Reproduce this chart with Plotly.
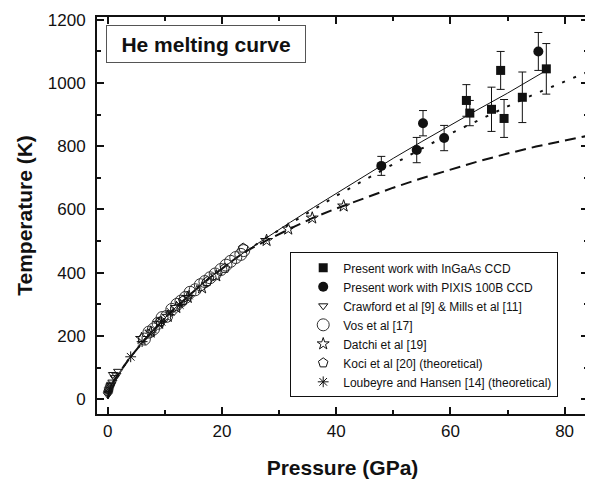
import plotly.graph_objects as go

# present work (InGaAs CCD), squares with error bars
ingaas_p = [62.8, 63.4, 67.2, 68.8, 69.4, 72.6, 76.8]
ingaas_t = [945, 905, 917, 1040, 888, 955, 1045]
ingaas_err = [50, 40, 70, 60, 60, 80, 80]

# present work (PIXIS 100B CCD), circles with error bars
pixis_p = [47.9, 54.1, 55.2, 58.9, 75.4]
pixis_t = [738, 788, 873, 826, 1100]
pixis_err = [30, 40, 40, 40, 60]

# Crawford et al & Mills et al
crawford_p = [0.0, 0.05, 0.1, 0.15, 0.2, 0.3, 0.4, 0.5, 0.6, 0.8, 0.9, 1.2, 1.5, 1.8]
crawford_t = [14, 18, 22, 26, 30, 35, 39, 43, 47, 54, 78, 68, 76, 88]

# Vos et al
vos_p = [6.4, 7.2, 8.0, 8.8, 9.5, 10.3, 11.2, 12.1, 12.8, 13.6, 14.4, 15.3,
         16.2, 17.0, 17.9, 18.8, 19.8, 20.7, 21.5, 22.4, 23.3, 23.8]
vos_t = [190, 212, 222, 240, 258, 262, 284, 300, 310, 322, 338, 346,
         362, 372, 384, 396, 410, 424, 436, 448, 458, 470]

# Datchi et al
datchi_p = [5.9, 7.5, 9.0, 10.5, 12.0, 14.0, 16.5, 19.0, 27.8, 31.6, 35.8, 41.3]
datchi_t = [192, 212, 240, 262, 290, 322, 352, 390, 502, 538, 573, 611]

# Koci et al (theoretical)
koci_p = [9.2, 13.2, 17.4, 20.5, 23.7]
koci_t = [246, 312, 372, 414, 478]

# Loubeyre and Hansen (theoretical)
loubeyre_p = [4.0, 6.0, 7.6, 9.4, 11.0, 12.6, 14.2]
loubeyre_t = [134, 182, 212, 245, 276, 298, 328]

# fitted melting curves
solid_p = [0, 0.2, 0.5, 1, 2, 3, 4, 6, 8, 10, 12, 14, 16, 18, 20, 22, 24,
           26, 28, 32, 36, 40, 45, 50, 55, 60, 65, 70, 76.8]
solid_t = [2, 25, 40, 57, 84, 110, 134, 178, 219, 257, 292, 325, 356, 386, 414, 440, 466,
           490, 513, 560, 606, 651, 707, 762, 815, 867, 918, 968, 1040]

dotted_p = [0, 0.2, 0.5, 1, 2, 3, 4, 6, 8, 10, 12, 14, 16, 18, 20, 22, 24,
            26, 28, 32, 36, 40, 45, 50, 55, 60, 65, 70, 75, 80, 84]
dotted_t = [2, 25, 40, 57, 84, 110, 134, 178, 219, 257, 292, 325, 356, 386, 414, 440, 466,
            490, 513, 556, 600, 643, 694, 744, 793, 840, 884, 926, 967, 1005, 1035]

dashed_p = [0, 0.2, 0.5, 1, 2, 3, 4, 6, 8, 10, 12, 14, 16, 18, 20, 22, 24,
            26, 28, 32, 36, 40, 45, 50, 55, 60, 65, 70, 75, 80, 84]
dashed_t = [2, 25, 40, 57, 84, 110, 134, 178, 219, 257, 292, 325, 356, 386, 414, 440, 466,
            486, 504, 540, 574, 603, 637, 669, 699, 727, 753, 777, 799, 818, 833]

FONT = "Liberation Sans, Arial, sans-serif"
INK = "#111111"

fig = go.Figure()

fig.add_trace(go.Scatter(x=solid_p, y=solid_t, mode="lines", showlegend=False,
                         line=dict(color=INK, width=1)))
fig.add_trace(go.Scatter(x=dotted_p, y=dotted_t, mode="lines", showlegend=False,
                         line=dict(color=INK, width=2, dash="3px,9px")))
fig.add_trace(go.Scatter(x=dashed_p, y=dashed_t, mode="lines", showlegend=False,
                         line=dict(color=INK, width=2, dash="11px,6px")))

fig.add_trace(go.Scatter(
    x=ingaas_p, y=ingaas_t, mode="markers", name="Present work with InGaAs CCD",
    marker=dict(symbol="square", size=9, color=INK),
    error_y=dict(type="data", array=ingaas_err, color=INK, thickness=1, width=4)))
fig.add_trace(go.Scatter(
    x=pixis_p, y=pixis_t, mode="markers", name="Present work with PIXIS 100B CCD",
    marker=dict(symbol="circle", size=10, color=INK),
    error_y=dict(type="data", array=pixis_err, color=INK, thickness=1, width=4)))
fig.add_trace(go.Scatter(
    x=crawford_p, y=crawford_t, mode="markers", name="Crawford et al [9] & Mills et al [11]",
    marker=dict(symbol="triangle-down-open", size=8, color=INK, line=dict(width=1))))
fig.add_trace(go.Scatter(
    x=vos_p, y=vos_t, mode="markers", name="Vos et al [17]",
    marker=dict(symbol="circle-open", size=12, color="#333333", line=dict(width=1))))
fig.add_trace(go.Scatter(
    x=datchi_p, y=datchi_t, mode="markers", name="Datchi et al [19]",
    marker=dict(symbol="star-open", size=9, color=INK, line=dict(width=1))))
fig.add_trace(go.Scatter(
    x=koci_p, y=koci_t, mode="markers", name="Koci et al [20] (theoretical)",
    marker=dict(symbol="pentagon-open", size=10, color=INK, line=dict(width=1))))
fig.add_trace(go.Scatter(
    x=loubeyre_p, y=loubeyre_t, mode="markers", name="Loubeyre and Hansen [14] (theoretical)",
    marker=dict(symbol="asterisk-open", size=9, color=INK, line=dict(width=1))))

axis_common = dict(
    showline=True, linecolor=INK, linewidth=2, mirror="allticks",
    ticks="inside", ticklen=7, tickwidth=1.5, tickcolor=INK,
    showgrid=False, zeroline=False, ticklabeloverflow="allow",
    tickfont=dict(family=FONT, size=17, color=INK),
)

# the page puts the figure 8px in from the corner, so margins are trimmed by 8
fig.update_layout(
    width=585, height=471,
    margin=dict(l=89, r=3, t=5, b=64),
    paper_bgcolor="white", plot_bgcolor="white",
    font=dict(family=FONT, color=INK),
    xaxis=dict(axis_common, range=[-1.9, 84.1], tickvals=[0, 20, 40, 60, 80],
               minor=dict(ticks="inside", ticklen=4, dtick=10, tickcolor=INK),
               ticklabelstandoff=1,
               title=dict(text="Pressure (GPa)", standoff=20,
                          font=dict(family=FONT, size=21, weight="bold", color=INK))),
    yaxis=dict(axis_common, range=[-47, 1209], tickvals=[0, 200, 400, 600, 800, 1000, 1200],
               minor=dict(ticks="inside", ticklen=4, dtick=100, tickcolor=INK),
               ticklabelstandoff=6,
               title=dict(text="Temperature (K)", standoff=9,
                          font=dict(family=FONT, size=21, weight="bold", color=INK))),
    legend=dict(x=0.3935, y=0.042, xanchor="left", yanchor="bottom",
                bordercolor=INK, borderwidth=1, bgcolor="white",
                entrywidth=225, entrywidthmode="pixels",
                font=dict(family=FONT, size=12, color=INK), indentation=12),
    annotations=[dict(
        text="He melting curve", xref="paper", yref="paper", x=0.223, y=0.933,
        xanchor="center", yanchor="middle", showarrow=False,
        font=dict(family=FONT, size=21, weight="bold", color=INK),
        bordercolor="#555555", borderwidth=1, borderpad=4, bgcolor="white",
        width=190, height=28)],
)

fig.write_html("out.html")
